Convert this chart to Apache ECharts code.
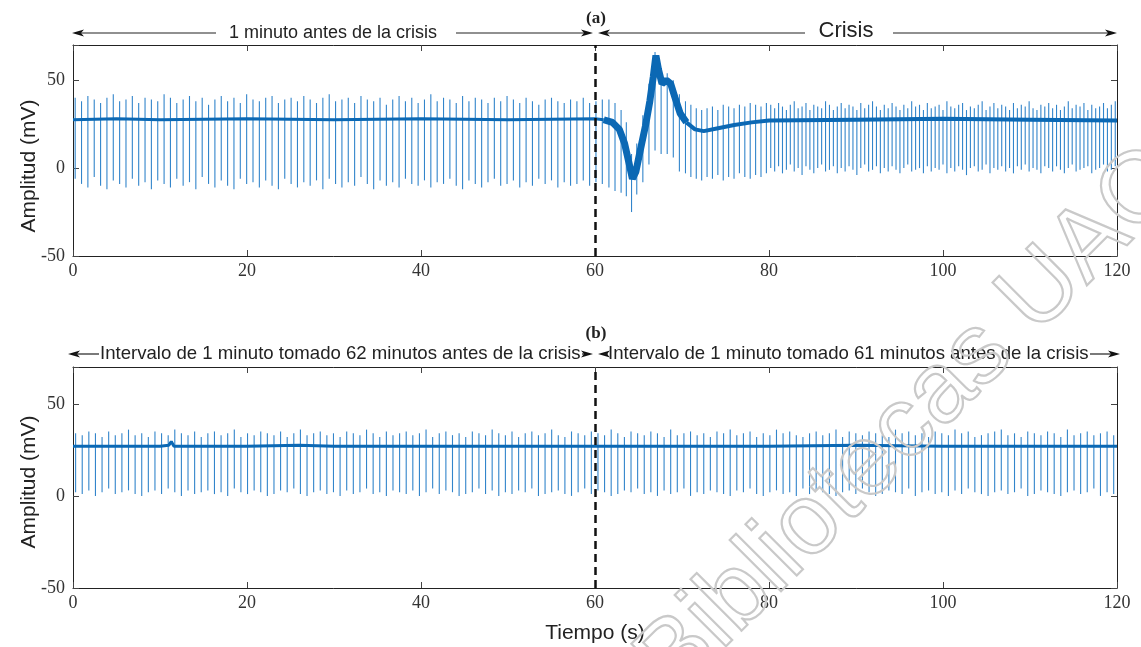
<!DOCTYPE html>
<html>
<head>
<meta charset="utf-8">
<script src="https://cdn.jsdelivr.net/npm/echarts@6/dist/echarts.min.js"></script>
<style>
  html, body { margin: 0; padding: 0; background: #fff; }
  #c { width: 1141px; height: 647px; }
</style>
</head>
<body>
<div id="c"></div>
<script>
// ---------- axis ticks ----------
const xTicks = [0, 20, 40, 60, 80, 100, 120];
const yTicks = [-50, 0, 50];
const xMin = 0, xMax = 120, xStep = 20;
const yMin = -50, yMax = 70, yStep = 50;

// ---------- panel (a): beats before the seizure ----------
const preStartA = 0.25, preRrA = 0.73;
const preTopsA = [
  40,38,41,39,37,40,42,38,39,41,37,40,39,38,42,40,37,39,41,38,
  40,36,39,41,38,40,37,42,39,38,40,41,37,39,40,38,41,39,37,40,
  42,38,39,40,37,41,39,38,40,36,39,41,38,40,37,39,42,38,40,39,
  37,41,38,40,39,37,40,38,41,39,37,40,38,36,39,40,38,37,39,38,
  40,37,38,39
];
const preBotsA = [
  -6,-9,-11,-5,-10,-12,-7,-9,-11,-6,-10,-8,-12,-7,-9,-11,-6,-10,-8,-12,
  -5,-9,-11,-7,-10,-12,-6,-9,-8,-11,-7,-10,-12,-6,-9,-11,-8,-10,-7,-12,
  -6,-9,-11,-8,-10,-5,-9,-12,-7,-10,-8,-11,-6,-9,-10,-7,-11,-8,-9,-6,
  -10,-12,-7,-9,-11,-8,-6,-10,-9,-7,-11,-8,-10,-6,-9,-7,-11,-8,-10,-9,
  -7,-10,-8,-9
];

// ---------- panel (a): beats during the seizure onset ----------
const crisisTimesA = [61.6, 62.3, 63.0, 63.6, 64.2, 64.8, 65.5, 66.2, 66.9, 67.6, 68.3, 69.0, 69.7];
const crisisTopsA  = [39, 37, 33, 26, 8, 14, 30, 48, 66, 56, 54, 50, 42];
const crisisBotsA  = [-11, -13, -14, -16, -25, -15, -8, 2, 10, 8, 8, 6, -2];

// ---------- panel (a): recovery and late seizure beats ----------
const recStartA = 70.4, recRrA = 0.62;
const recTopsA = [38,36,34,33,34,35,33,36,35,34,36,35,37,36,35,37];
const recBotsA = [-3,-5,-6,-7,-5,-6,-4,-7,-5,-6,-3,-5,-6,-4,-5,-3];

const lateStartA = 80.2, lateRrA = 0.45;
const lateTopsA = [
  36,34,37,35,33,36,38,34,35,37,33,36,35,34,38,36,33,35,37,34,
  36,35,33,37,34,36,38,35,33,36,34,37,35,33,36,34,38,35,36,33,
  37,34,35,36,33,38,35,34,36,37,33,35,34,36,38,33,35,37,34,36,
  35,33,37,34,36,35,38,34,33,36,35,37,34,36,33,35,38,34,36,35,
  37,33,36,34,35,37,34,36,38
];
const lateBotsA = [
  0,-2,1,-3,-1,2,-2,0,-4,1,-1,-3,0,2,-2,-1,1,-3,0,-2,
  1,-1,-4,0,2,-2,-1,1,-3,0,-2,1,-1,-3,0,2,-2,-1,0,-3,
  1,-2,0,-1,2,-3,0,-2,1,-1,-4,0,1,-2,-1,2,-3,0,-1,1,
  -2,0,-3,1,-1,2,-2,0,-1,-3,1,0,-2,1,-1,-3,0,2,-2,-1,
  0,1,-3,-1,0,2,-2,-1,1
];

// ---------- panel (a): baseline (time, mV) ----------
const baseQuietA = [[0,27.5],[5,28],[10,27.5],[20,28],[30,27.5],[40,28],[50,27.5],[60,28],[61,27.5]];
const baseCrisisA = [[61,27.5],[62,26],[62.8,22],[63.4,14],[63.9,3],[64.3,-6],[64.7,-2],[65.2,10],
  [65.8,24],[66.3,38],[66.7,52],[67,64],[67.3,56],[67.7,48],[68.2,50],[68.7,48],[69.2,40],[69.8,31],[70.5,26]];
const baseAfterA = [[70.5,26],[71.5,22],[72.5,21],[74,22.5],[76,24.5],[78,26],[80,27],[90,27.5],
  [100,28],[110,27.5],[120,27]];

// ---------- panel (b): two one-minute intervals ----------
const startB = 0.3, rrB = 0.76;
const topsB = [
  34,33,35,34,32,35,33,34,36,33,34,32,35,34,33,36,34,33,35,32,
  34,35,33,34,36,32,34,33,35,34,33,35,32,34,36,33,34,35,33,34,
  32,35,34,33,36,34,32,35,33,34,35,33,34,36,32,34,35,33,34,32,
  35,34,33,36,34,33,35,32,34,35,33,34,36,33,32,35,34,33,35,34,
  33,36,34,32,35,34,33,35,34,32,36,33,34,35,33,34,32,35,34,36,
  33,34,35,32,34,33,36,34,35,33,32,34,35,33,34,36,32,35,34,33,
  35,34,33,32,36,34,35,33,34,32,35,34,33,36,34,35,32,33,34,35,
  36,33,34,32,35,34,33,35,34,32,36,33,34,35,33,34,35,33
];
const botsB = [
  2,1,3,0,2,4,1,2,3,1,0,2,3,1,4,2,0,3,1,2,
  3,1,2,0,4,2,1,3,2,0,1,3,2,4,1,0,2,3,1,2,
  0,3,1,2,4,1,2,0,3,2,1,3,0,2,4,1,3,2,0,1,
  2,4,1,3,0,2,1,3,2,4,0,1,2,3,1,0,2,4,1,3,
  2,0,1,3,2,4,1,2,0,3,1,2,4,0,2,1,3,2,1,0,
  3,2,4,1,0,2,3,1,2,0,4,1,3,2,1,0,2,3,1,4,
  2,0,1,3,2,1,4,0,2,3,1,2,0,3,1,4,2,1,0,2,
  3,1,2,4,0,1,3,2,1,0,2,3,1,2,4,0,2,1
];
const baseB = [[0,27],[10,27],[11,27.5],[11.3,29.5],[11.6,27],[20,27],[26,27.5],[30,27],[40,27],
  [50,27],[60,27],[70,27],[80,27],[90,27.5],[100,27],[110,27],[120,27]];

const boundary = 60;

// ---------- helpers ----------
function beatRows(start, rr, tops, bots) {
  return tops.map((top, i) => [Math.round((start + i * rr) * 1000) / 1000, top, bots[i]]);
}
const spikesA = beatRows(preStartA, preRrA, preTopsA, preBotsA)
  .concat(crisisTimesA.map((t, i) => [t, crisisTopsA[i], crisisBotsA[i]]))
  .concat(beatRows(recStartA, recRrA, recTopsA, recBotsA))
  .concat(beatRows(lateStartA, lateRrA, lateTopsA, lateBotsA));
const spikesB = beatRows(startB, rrB, topsB, botsB);

const LINE = '#0b68b4';
const SPIKE = '#3285cb';
const SANS = '"Liberation Sans", Arial, sans-serif';
const SERIF = '"Liberation Serif", "DejaVu Serif", serif';

function spikeSeries(idx, data) {
  return {
    type: 'custom', xAxisIndex: idx * 2, yAxisIndex: idx * 2, data: data,
    encode: { x: 0, y: [1, 2] }, clip: true, silent: true, z: 2,
    renderItem(params, api) {
      const p1 = api.coord([api.value(0), api.value(1)]);
      const p2 = api.coord([api.value(0), api.value(2)]);
      return { type: 'line', shape: { x1: p1[0], y1: p1[1], x2: p2[0], y2: p2[1] },
               style: { stroke: SPIKE, lineWidth: 1.1 } };
    }
  };
}
function baseSeries(idx, data, width) {
  return { type: 'line', xAxisIndex: idx * 2, yAxisIndex: idx * 2, data: data, showSymbol: false,
           silent: true, z: 3, lineStyle: { color: LINE, width: width }, sampling: 'none' };
}
function dashSeries(idx) {
  return { type: 'line', xAxisIndex: idx * 2, yAxisIndex: idx * 2, data: [], z: 6, silent: true,
    markLine: { silent: true, symbol: 'none', label: { show: false }, animation: false,
      lineStyle: { color: '#111', type: [8, 5], width: 2.5 }, data: [{ xAxis: boundary }] } };
}

function xAxes(gridIndex) {
  const common = { type: 'value', gridIndex, min: xMin, max: xMax, interval: xStep, splitLine: { show: false },
    axisLine: { show: true, onZero: false, lineStyle: { color: '#222', width: 1 } },
    axisTick: { show: true, inside: true, length: 6, lineStyle: { color: '#444' } } };
  return [
    Object.assign({}, common, { position: 'bottom',
      axisLabel: { show: true, margin: 6, color: '#333', fontFamily: SERIF, fontSize: 18 } }),
    Object.assign({}, common, { position: 'top', axisLabel: { show: false } })
  ];
}
function yAxes(gridIndex) {
  const common = { type: 'value', gridIndex, min: yMin, max: yMax, interval: yStep, splitLine: { show: false },
    axisLine: { show: true, onZero: false, lineStyle: { color: '#222', width: 1 } },
    axisTick: { show: true, inside: true, length: 6, lineStyle: { color: '#444' } } };
  return [
    Object.assign({}, common, { position: 'left',
      axisLabel: { show: true, margin: 8, color: '#333', fontFamily: SERIF, fontSize: 18,
        formatter: v => (yTicks.indexOf(v) >= 0 ? String(v) : '') } }),
    Object.assign({}, common, { position: 'right', axisLabel: { show: false } })
  ];
}

// ---------- annotation arrows ----------
function headLeft(x, y) {
  return { type: 'polygon', shape: { points: [[x, y], [x + 12, y - 3.6], [x + 9, y], [x + 12, y + 3.6]] },
           style: { fill: '#111' }, z: 10 };
}
function headRight(x, y) {
  return { type: 'polygon', shape: { points: [[x, y], [x - 12, y - 3.6], [x - 9, y], [x - 12, y + 3.6]] },
           style: { fill: '#111' }, z: 10 };
}
function hline(x1, x2, y) {
  return { type: 'line', shape: { x1, y1: y, x2, y2: y }, style: { stroke: '#222', lineWidth: 1.2 }, z: 10 };
}
function label(text, x, y, size, align, font, weight) {
  return { type: 'text', x, y, z: 10,
    style: { text, fill: '#222', font: (weight || 'normal') + ' ' + size + 'px ' + (font || SANS),
             textAlign: align || 'center', textVerticalAlign: 'middle' } };
}

const yA = 33, yB = 354;
const graphics = [
  // panel (a) header
  label('(a)', 596, 19, 17, 'center', SERIF, 'bold'),
  headLeft(72, yA), hline(78, 216, yA),
  label('1 minuto antes de la crisis', 229, yA, 18, 'left'),
  hline(456, 588, yA), headRight(593, yA),
  headLeft(598, yA), hline(604, 805, yA),
  label('Crisis', 846, yA - 2, 22),
  hline(893, 1112, yA), headRight(1117, yA),
  // panel (b) header
  label('(b)', 596, 334, 17, 'center', SERIF, 'bold'),
  headLeft(68, yB), hline(74, 99, yB),
  label('Intervalo de 1 minuto tomado 62 minutos antes de la crisis', 100, yB, 18.6, 'left'),
  hline(582, 588, yB), headRight(593, yB),
  headLeft(598, yB), hline(604, 608, yB),
  label('Intervalo de 1 minuto tomado 61 minutos antes de la crisis', 608, yB, 18.6, 'left'),
  hline(1090, 1115, yB), headRight(1120, yB),
  // axis titles
  { type: 'text', x: 29, y: 166, rotation: Math.PI / 2, z: 10,
    style: { text: 'Amplitud (mV)', fill: '#222', font: '21px ' + SANS, textAlign: 'center', textVerticalAlign: 'middle' } },
  { type: 'text', x: 29, y: 482, rotation: Math.PI / 2, z: 10,
    style: { text: 'Amplitud (mV)', fill: '#222', font: '21px ' + SANS, textAlign: 'center', textVerticalAlign: 'middle' } },
  label('Tiempo (s)', 595, 633, 21),
  // library watermark
  { type: 'text', x: 690, y: 714, rotation: Math.PI * 45 / 180, z: 20, silent: true,
    style: { text: 'Bibliotecas UAQ', fill: 'none', stroke: '#c9c9c9', lineWidth: 2.2,
             font: '100px ' + SANS, textAlign: 'left', textVerticalAlign: 'bottom' } }
];

const chart = echarts.init(document.getElementById('c'), null, { renderer: 'canvas' });
chart.setOption({
  animation: false,
  backgroundColor: '#fff',
  grid: [
    { left: 73, right: 24, top: 45, height: 211, containLabel: false },
    { left: 73, right: 24, top: 367, height: 221, containLabel: false }
  ],
  xAxis: xAxes(0).concat(xAxes(1)),
  yAxis: yAxes(0).concat(yAxes(1)),
  series: [
    spikeSeries(0, spikesA),
    baseSeries(0, baseQuietA, 3),
    baseSeries(0, baseCrisisA, 7),
    baseSeries(0, baseAfterA, 4),
    dashSeries(0),
    spikeSeries(1, spikesB),
    baseSeries(1, baseB, 3),
    dashSeries(1)
  ],
  graphic: graphics
});
</script>
</body>
</html>
